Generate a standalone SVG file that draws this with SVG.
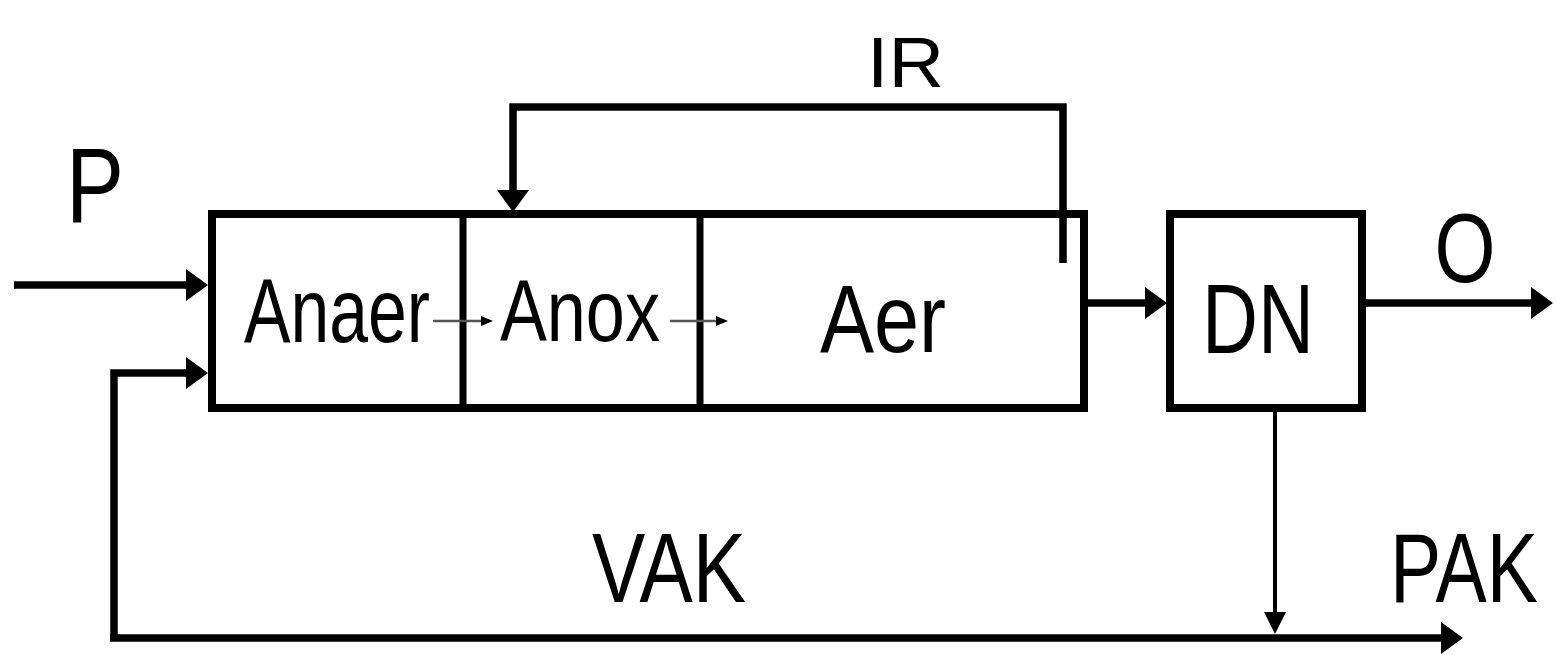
<svg xmlns="http://www.w3.org/2000/svg" width="1556" height="655" viewBox="0 0 1556 655">
<style>
.box{fill:#fff;stroke:#000;stroke-width:8}
.div{stroke:#000;stroke-width:7}
.t{font-family:"Liberation Sans",Arial,sans-serif;fill:#000}
.c{fill:none;stroke:#000;stroke-width:7.5;stroke-linejoin:miter}
.thin{fill:none;stroke:#000;stroke-width:4}
.int{fill:none;stroke:#555;stroke-width:2.5}
</style>
<defs>
<marker id="ah" markerUnits="userSpaceOnUse" viewBox="0 0 22 32" refX="10" refY="16" markerWidth="22" markerHeight="32" orient="auto"><path d="M0,0 L22,16 L0,32 Z" fill="#000"/></marker>
<marker id="ahs" markerUnits="userSpaceOnUse" viewBox="0 0 22 22" refX="10" refY="11" markerWidth="22" markerHeight="22" orient="auto"><path d="M0,0 L22,11 L0,22 Z" fill="#000"/></marker>
<marker id="aht" markerUnits="userSpaceOnUse" viewBox="0 0 12 10" refX="8" refY="5" markerWidth="12" markerHeight="10" orient="auto"><path d="M0,0 L12,5 L0,10 Z" fill="#000"/></marker>
</defs>
<rect width="1556" height="655" fill="#fff"/>
<g id="reactor">
<rect class="box" x="212" y="214" width="872" height="194"/>
<line class="div" x1="463" y1="214" x2="463" y2="408"/>
<line class="div" x1="700" y1="214" x2="700" y2="408"/>
</g>
<g id="anaer"><text class="t" x="337" y="342" font-size="90" text-anchor="middle" textLength="186" lengthAdjust="spacingAndGlyphs">Anaer</text></g>
<g id="anox"><text class="t" x="580" y="341" font-size="88" text-anchor="middle" textLength="160" lengthAdjust="spacingAndGlyphs">Anox</text></g>
<g id="aer"><text class="t" x="883" y="352" font-size="97" text-anchor="middle" textLength="126" lengthAdjust="spacingAndGlyphs">Aer</text></g>
<g id="dn">
<rect class="box" x="1170" y="214" width="192" height="194"/>
<text class="t" x="1258" y="353" font-size="98" text-anchor="middle" textLength="112" lengthAdjust="spacingAndGlyphs">DN</text>
</g>
<g id="connectors">
<path class="c" d="M14,285 H196" marker-end="url(#ah)"/>
<path class="c" d="M114,641 V373 H196" marker-end="url(#ah)"/>
<path class="c" d="M110,638 H1451" marker-end="url(#ah)"/>
<path class="thin" d="M1275,412 V622" marker-end="url(#ahs)"/>
<path class="c" d="M1063,263 V107 H513 V200" marker-end="url(#ah)"/>
<path class="c" d="M1088,303 H1155" marker-end="url(#ah)"/>
<path class="c" d="M1366,303 H1541" marker-end="url(#ah)"/>
<path class="int" d="M433,321 H489" marker-end="url(#aht)"/>
<path class="int" d="M670,321 H724" marker-end="url(#aht)"/>
</g>
<g id="labels">
<text class="t" x="66" y="222" font-size="106" textLength="58" lengthAdjust="spacingAndGlyphs">P</text>
<text class="t" x="867" y="87" font-size="70" textLength="77" lengthAdjust="spacingAndGlyphs">IR</text>
<text class="t" x="1465" y="282" font-size="98" text-anchor="middle" textLength="61" lengthAdjust="spacingAndGlyphs">O</text>
<text class="t" x="669" y="602" font-size="98" text-anchor="middle" textLength="154" lengthAdjust="spacingAndGlyphs">VAK</text>
<text class="t" x="1464" y="602" font-size="98" text-anchor="middle" textLength="148" lengthAdjust="spacingAndGlyphs">PAK</text>
</g>
</svg>
